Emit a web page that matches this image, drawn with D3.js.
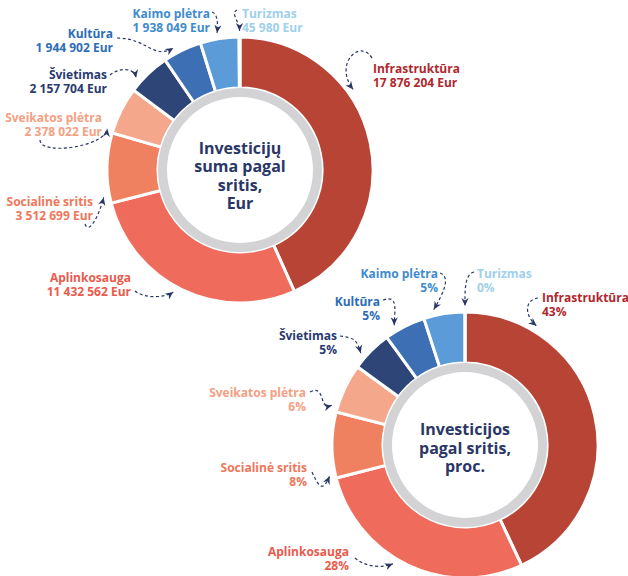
<!DOCTYPE html>
<html>
<head>
<meta charset="utf-8">
<script src="https://cdn.jsdelivr.net/npm/d3@7"></script>
<style>
  html, body { margin: 0; padding: 0; background: #ffffff; }
  svg { display: block; }
  text { font-family: "Open Sans", "Noto Sans", sans-serif; font-weight: 700; }
</style>
</head>
<body>
<svg id="chart" width="628" height="576"></svg>
<script>
// ---------- data ----------
const categories = ["Infrastruktūra", "Aplinkosauga", "Socialinė sritis", "Sveikatos plėtra",
                    "Švietimas", "Kultūra", "Kaimo plėtra", "Turizmas"];
const eurValues = [17876204, 11432562, 3512699, 2378022, 2157704, 1944902, 1938049, 45980];
const pctValues = [43, 28, 8, 6, 5, 5, 5, 0];
const titleTop = ["Investicijų", "suma pagal", "sritis,", "Eur"];
const titleBottom = ["Investicijos", "pagal sritis,", "proc."];

// ---------- styles ----------
const sliceColors = ["#b84435", "#ef6b5c", "#f08160", "#f4a78b", "#2e4577", "#3c6fb4", "#5a9bd8", "#a9d6ef"];
const labelColors = ["#b2272d", "#eb5a4b", "#f0765a", "#f4a083", "#283a6e", "#2d6db4", "#3f8bd0", "#9fd0ec"];
const navy = "#2a3766";

// label layout per category
const layoutTop = [
  {x: 373, y: 73, a: "start", s: [372, 58], d1: [-12, -20], d2: [-20, -25], f: 0.35},
  {x: 131, y: 282, a: "end", s: [135, 291], d1: [10, 8], d2: [-8, 6], f: 0.53},
  {x: 93, y: 206, a: "end", s: [85, 224], d1: [4, 12], d2: [-4, 16], f: 0.1},
  {x: 102, y: 122, a: "end", s: [40, 140], d1: [0, 16], d2: [-2, 18], f: 0.05},
  {x: 107, y: 79, a: "end", s: [110, 75], d1: [10, -8], d2: [-2, -10], f: 0.25},
  {x: 113, y: 38, a: "end", s: [117, 38], d1: [30, 0], d2: [-20, 12], f: 0.33},
  {x: 210, y: 18, a: "end", s: [212, 12], d1: [6, 2], d2: [1, -8], f: 0.46},
  {x: 242, y: 18, a: "start", s: [237, 10], d1: [-7, 3], d2: [0, -10], f: 0.5}
];
const layoutBottom = [
  {x: 542, y: 302, a: "start", s: [538, 298], d1: [-14, 2], d2: [-12, -10], f: 0.2},
  {x: 349, y: 556, a: "end", s: [355, 558], d1: [12, 10], d2: [-10, 4], f: 0.56},
  {x: 307, y: 472, a: "end", s: [312, 472], d1: [8, 18], d2: [-6, 14], f: 0.05},
  {x: 306, y: 397, a: "end", s: [310, 392], d1: [16, -8], d2: [-14, 4], f: 0.1},
  {x: 337, y: 340, a: "end", s: [340, 336], d1: [14, 2], d2: [-4, -14], f: 0.3},
  {x: 380, y: 306, a: "end", s: [383, 300], d1: [16, -6], d2: [0, -14], f: 0.3},
  {x: 438, y: 278, a: "end", s: [440, 273], d1: [12, 4], d2: [8, -14], f: 0.28},
  {x: 477, y: 278, a: "start", s: [474, 272], d1: [-10, 2], d2: [0, -12], f: 0.5}
];

const svg = d3.select("#chart");

const defs = svg.append("defs");
defs.append("marker")
  .attr("id", "arrowhead")
  .attr("viewBox", "-8 -4 9 8")
  .attr("refX", 0).attr("refY", 0)
  .attr("markerWidth", 9).attr("markerHeight", 8)
  .attr("markerUnits", "userSpaceOnUse")
  .attr("orient", "auto")
  .append("path")
  .attr("d", "M0,0 L-8,-3.6 L-5.5,0 L-8,3.6 Z")
  .attr("fill", navy);

const R_OUT = 133, R_IN = 82;
const arc = d3.arc().innerRadius(R_IN).outerRadius(R_OUT);
const pie = d3.pie().sort(null).value(d => d);
const fmtEur = v => d3.format(",")(v).replace(/,/g, " ") + " Eur";

function drawDonut(cx, cy, values, layout, line2Text, title, titleY0, titleStep, titleSize) {
  const g = svg.append("g").attr("transform", `translate(${cx},${cy})`);
  const arcs = pie(values);

  g.selectAll("path.slice")
    .data(arcs)
    .join("path")
    .attr("class", "slice")
    .attr("d", arc)
    .attr("fill", (d, i) => sliceColors[i])
    .attr("stroke", "#ffffff")
    .attr("stroke-width", 3)
    .attr("stroke-linejoin", "miter");

  // grey ring and white center
  g.append("circle").attr("r", R_IN).attr("fill", "#d3d3d5");
  g.append("circle").attr("r", 73).attr("fill", "#ffffff");

  // center title
  g.selectAll("text.title")
    .data(title)
    .join("text")
    .attr("class", "title")
    .attr("x", 0)
    .attr("y", (d, i) => titleY0 + i * titleStep)
    .attr("text-anchor", "middle")
    .attr("font-size", titleSize)
    .attr("fill", navy)
    .text(d => d);

  // labels & arrows
  arcs.forEach((d, i) => {
    const L = layout[i];
    const t = svg.append("text")
      .attr("text-anchor", L.a)
      .attr("font-size", 12)
      .attr("fill", labelColors[i]);
    t.append("tspan").attr("x", L.x).attr("y", L.y).text(categories[i]);
    t.append("tspan").attr("x", L.x).attr("y", L.y + 13.5).text(line2Text(i));

    const ang = d.startAngle + L.f * (d.endAngle - d.startAngle);
    const rTip = R_OUT + 6;
    const E = [cx + rTip * Math.sin(ang), cy - rTip * Math.cos(ang)];
    const S = L.s;
    const p = d3.path();
    p.moveTo(S[0], S[1]);
    p.bezierCurveTo(S[0] + L.d1[0], S[1] + L.d1[1], E[0] + L.d2[0], E[1] + L.d2[1], E[0], E[1]);
    svg.append("path")
      .attr("d", p.toString())
      .attr("fill", "none")
      .attr("stroke", navy)
      .attr("stroke-width", 1.2)
      .attr("stroke-dasharray", "3,2.5")
      .attr("marker-end", "url(#arrowhead)");
  });
}

drawDonut(240, 170, eurValues, layoutTop, i => fmtEur(eurValues[i]), titleTop, -16, 18.3, 16);
drawDonut(465, 445, pctValues, layoutBottom, i => pctValues[i] + "%", titleBottom, -10, 18.5, 16);
</script>
</body>
</html>
